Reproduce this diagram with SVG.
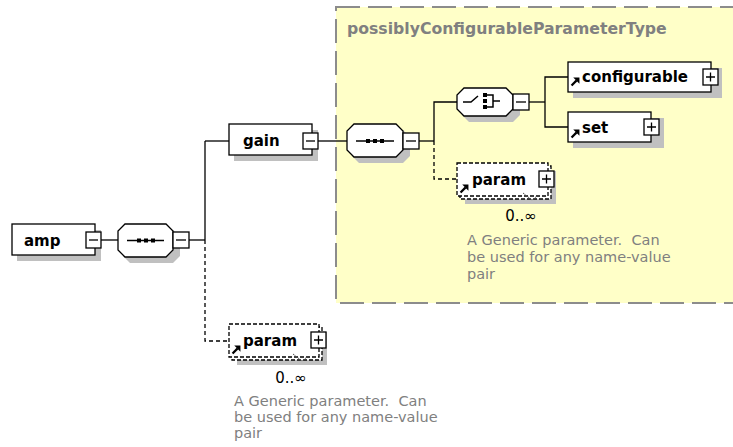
<svg xmlns="http://www.w3.org/2000/svg" width="733" height="447" viewBox="0 0 733 447">
<defs>
<style>
.bg{fill:#ffffff}
.cplx{fill:#ffffc8;stroke:#8c8c8c;stroke-width:2;stroke-dasharray:24 8}
.title{font-family:"DejaVu Sans",sans-serif;font-weight:bold;font-size:15.7px;fill:#808080}
.box{fill:#ffffff;stroke:#000000;stroke-width:1.3}
.dbox{fill:#ffffff;stroke:#000000;stroke-width:1.3;stroke-dasharray:4 2}
.shadow{fill:#c0c0c0}
.name{font-family:"DejaVu Sans",sans-serif;font-weight:bold;font-size:15px;fill:#000000}
.occ{font-family:"DejaVu Sans",sans-serif;font-size:15px;fill:#000000}
.doc{font-family:"DejaVu Sans",sans-serif;font-size:14.5px;fill:#808080}
.pm{fill:#ffffff;stroke:#000000;stroke-width:1.3}
.pml{stroke:#000000;stroke-width:1.3;fill:none}
.conn{stroke:#000000;stroke-width:1.3;fill:none}
.dconn{stroke:#000000;stroke-width:1.3;fill:none;stroke-dasharray:4 3}
.icon{stroke:#000000;stroke-width:1.5;fill:none}
.dot{fill:#000000}
.tick{stroke:#555555;stroke-width:1;fill:none;stroke-dasharray:2 1}
</style>
<symbol id="refArrow" viewBox="0 0 8 8" overflow="visible">
<path d="M0.5,7.5 L5,3" stroke="#000" stroke-width="2" fill="none"/>
<polygon points="2,0.5 7.5,0.5 7.5,6" fill="#000"/>
</symbol>
</defs>

<rect class="bg" x="0" y="0" width="733" height="447"/>

<g id="complexType">
<rect class="cplx" x="336" y="7" width="410" height="296"/>
<text class="title" x="347" y="34">possiblyConfigurableParameterType</text>
</g>

<g id="connectors">
<line class="conn" x1="101" y1="240" x2="118" y2="240"/>
<line class="conn" x1="189" y1="240" x2="205" y2="240"/>
<line class="conn" x1="205" y1="141" x2="205" y2="240"/>
<line class="conn" x1="205" y1="141" x2="229" y2="141"/>
<polyline class="dconn" points="205,240 205,341 229,341"/>
<line class="conn" x1="318" y1="141" x2="347" y2="141"/>
<line class="conn" x1="419" y1="141" x2="434" y2="141"/>
<polyline class="conn" points="434,141 434,102 457,102"/>
<polyline class="dconn" points="434,141 434,179 457,179"/>
<line class="conn" x1="529" y1="102" x2="545" y2="102"/>
<polyline class="conn" points="568,77 545,77 545,127 568,127"/>
</g>

<g id="amp">
<rect class="shadow" x="17" y="230" width="84" height="31"/>
<rect class="box" x="12" y="224" width="83" height="31"/>
<text class="name" x="24" y="246">amp</text>
<rect class="pm" x="86" y="232" width="15" height="16"/>
<line class="pml" x1="89" y1="240" x2="98" y2="240"/>
</g>

<g id="seq1">
<polygon class="shadow" points="130,230 173,230 180,237 180,256 173,263 130,263 123,256 123,237"/>
<polygon class="box" points="125,224 166,224 173,231 173,250 166,257 125,257 118,250 118,231"/>
<line class="icon" x1="127" y1="240.5" x2="164" y2="240.5"/>
<rect class="dot" x="137" y="238.5" width="4" height="4"/>
<rect class="dot" x="144" y="238.5" width="4" height="4"/>
<rect class="dot" x="151" y="238.5" width="4" height="4"/>
<rect class="pm" x="173" y="232" width="16" height="16"/>
<line class="pml" x1="176" y1="240" x2="186" y2="240"/>
</g>

<g id="gain">
<rect class="shadow" x="234" y="130" width="84" height="31"/>
<rect class="box" x="229" y="124" width="83" height="31"/>
<text class="name" x="243" y="146">gain</text>
<rect class="pm" x="303" y="133" width="15" height="16"/>
<line class="pml" x1="306" y1="141" x2="315" y2="141"/>
</g>

<g id="param-outer">
<rect class="shadow" x="237" y="332" width="90" height="33"/>
<rect class="dbox" x="232" y="327" width="90" height="33"/>
<rect class="dbox" x="229" y="324" width="90" height="33"/>
<text class="name" x="243" y="346">param</text>
<use href="#refArrow" x="232" y="345" width="9" height="9"/>
<rect class="pm" x="311" y="332" width="15" height="16"/>
<path class="pml" d="M314,340 H323 M318.5,335.5 V344.5"/>
<polyline class="tick" points="293,354 302,361 307,357"/>
<text class="occ" x="291" y="383" text-anchor="middle">0..∞</text>
<text class="doc" x="234" y="406" xml:space="preserve">A Generic parameter.  Can</text>
<text class="doc" x="234" y="422">be used for any name-value</text>
<text class="doc" x="234" y="438">pair</text>
</g>

<g id="seq2">
<polygon class="shadow" points="359,130 403,130 410,137 410,156 403,163 359,163 352,156 352,137"/>
<polygon class="box" points="354,124 396,124 403,131 403,150 396,157 354,157 347,150 347,131"/>
<line class="icon" x1="356" y1="141" x2="394" y2="141"/>
<rect class="dot" x="366" y="139" width="4" height="4"/>
<rect class="dot" x="373" y="139" width="4" height="4"/>
<rect class="dot" x="380" y="139" width="4" height="4"/>
<rect class="pm" x="403" y="133" width="16" height="16"/>
<line class="pml" x1="406" y1="141" x2="416" y2="141"/>
</g>

<g id="choice">
<polygon class="shadow" points="469,94 513,94 520,101 520,115 513,122 469,122 462,115 462,101"/>
<polygon class="box" points="464,88 506,88 513,95 513,109 506,116 464,116 457,109 457,95"/>
<polyline class="icon" points="463,102 471,102 478,96"/>
<rect class="dot" x="483" y="93" width="4" height="4"/>
<rect class="dot" x="483" y="99" width="4" height="4"/>
<rect class="dot" x="483" y="105" width="4" height="4"/>
<polyline class="icon" points="487,95 493,95 493,107 487,107"/>
<line class="icon" x1="493" y1="101" x2="500" y2="101"/>
<rect class="pm" x="513" y="94" width="16" height="16"/>
<line class="pml" x1="516" y1="102" x2="526" y2="102"/>
</g>

<g id="configurable">
<rect class="shadow" x="573" y="68" width="149" height="30"/>
<rect class="box" x="568" y="62" width="143" height="30"/>
<text class="name" x="582" y="82">configurable</text>
<use href="#refArrow" x="571" y="77" width="9" height="9"/>
<rect class="pm" x="703" y="69" width="15" height="16"/>
<path class="pml" d="M706,77 H715 M710.5,72.5 V81.5"/>
</g>

<g id="set">
<rect class="shadow" x="573" y="118" width="91" height="30"/>
<rect class="box" x="568" y="112" width="83" height="30"/>
<text class="name" x="582" y="133">set</text>
<use href="#refArrow" x="571" y="129" width="9" height="9"/>
<rect class="pm" x="644" y="119" width="15" height="16"/>
<path class="pml" d="M647,127 H656 M651.5,122.5 V131.5"/>
</g>

<g id="param-inner">
<rect class="shadow" x="465" y="171" width="91" height="33"/>
<rect class="dbox" x="460" y="166" width="91" height="33"/>
<rect class="dbox" x="457" y="163" width="91" height="33"/>
<text class="name" x="472" y="185">param</text>
<use href="#refArrow" x="460" y="184" width="9" height="9"/>
<rect class="pm" x="539" y="171" width="15" height="16"/>
<path class="pml" d="M542,179 H551 M546.5,174.5 V183.5"/>
<polyline class="tick" points="523,193 532,200 537,196"/>
<text class="occ" x="521" y="221" text-anchor="middle">0..∞</text>
<text class="doc" x="467" y="245" xml:space="preserve">A Generic parameter.  Can</text>
<text class="doc" x="467" y="262">be used for any name-value</text>
<text class="doc" x="467" y="279">pair</text>
</g>
</svg>
